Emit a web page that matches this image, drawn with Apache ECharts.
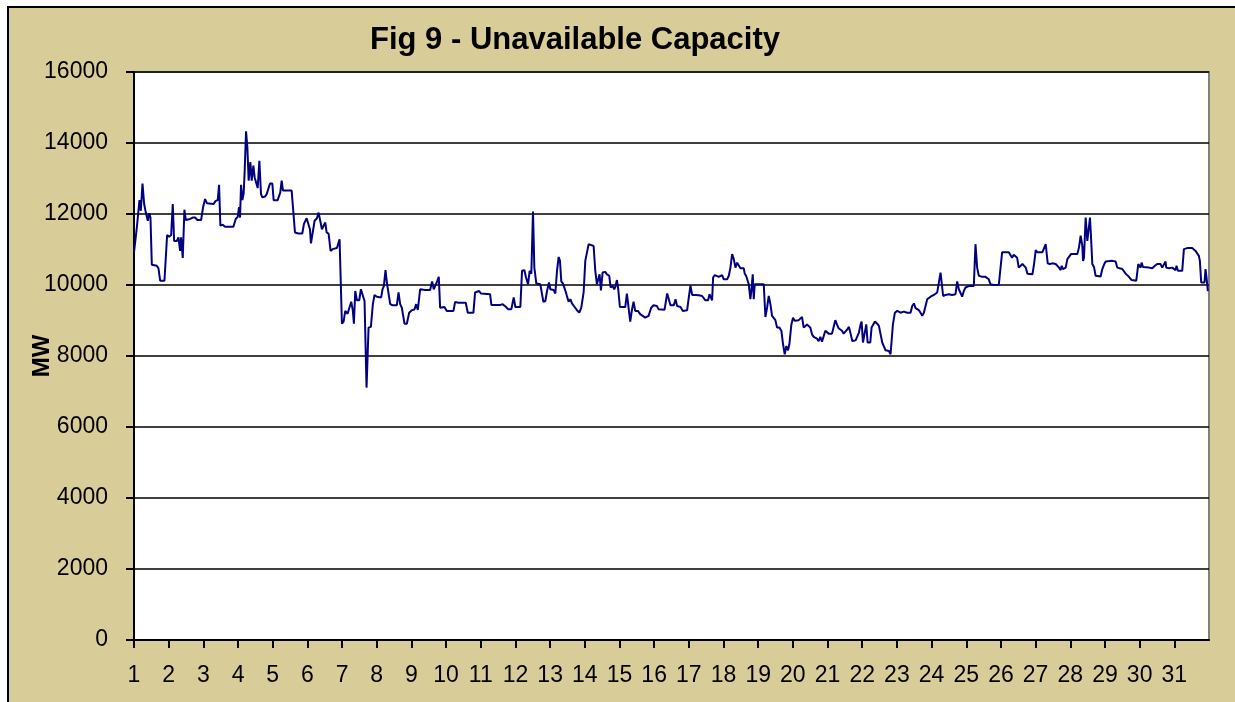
<!DOCTYPE html>
<html>
<head>
<meta charset="utf-8">
<script src="https://cdn.jsdelivr.net/npm/echarts@6/dist/echarts.min.js"></script>
<style>
html,body{margin:0;padding:0;background:#ffffff;overflow:hidden;}
#frame{position:absolute;left:7px;top:6px;width:1300px;height:800px;background:#D8CC98;border-left:2px solid #000;border-top:2px solid #000;}
#chart{position:absolute;left:0;top:0;width:1235px;height:702px;}
#edge{position:absolute;left:1212px;top:8px;width:60px;height:720px;background:#D8CC98;z-index:5;}
</style>
</head>
<body>
<div id="frame"></div>
<div id="chart"></div>
<div id="edge"></div>
<script>
const chartTitle = 'Fig 9 - Unavailable Capacity';
const yAxisName = 'MW';
const dayTicks = [1,2,3,4,5,6,7,8,9,10,11,12,13,14,15,16,17,18,19,20,21,22,23,24,25,26,27,28,29,30,31];
const yTicks = [0,2000,4000,6000,8000,10000,12000,14000,16000];

const dayPos = [
1.00,1.082,1.130,1.158,1.197,1.245,1.293,1.341,1.398,1.437,1.475,1.514,1.658,1.706,1.754,1.878,1.955,2.013,2.071,2.118,
2.157,2.234,2.282,2.330,2.358,2.406,2.454,2.493,2.618,2.694,2.762,2.829,2.935,2.992,3.050,3.107,3.290,3.357,3.415,3.453,
3.491,3.558,3.626,3.866,3.933,3.991,4.029,4.058,4.087,4.125,4.163,4.192,4.231,4.269,4.307,4.356,4.394,4.442,4.480,4.528,
4.567,4.615,4.663,4.701,4.778,4.826,4.874,4.922,4.989,5.027,5.143,5.181,5.219,5.258,5.296,5.546,5.594,5.642,5.738,5.853,
5.901,5.978,6.026,6.074,6.103,6.151,6.208,6.275,6.323,6.362,6.419,6.468,6.516,6.554,6.612,6.669,6.727,6.852,6.928,6.967,
6.996,7.044,7.092,7.159,7.216,7.264,7.312,7.341,7.380,7.428,7.495,7.543,7.591,7.648,7.706,7.764,7.831,7.888,7.936,8.004,
8.128,8.167,8.205,8.253,8.292,8.340,8.388,8.455,8.580,8.628,8.676,8.724,8.800,8.868,8.935,9.012,9.088,9.136,9.184,9.252,
9.396,9.540,9.597,9.645,9.693,9.741,9.789,9.828,9.876,9.953,10.020,10.212,10.260,10.356,10.567,10.625,10.788,10.836,10.884,10.951,
11.009,11.268,11.306,11.565,11.633,11.729,11.786,11.882,11.950,11.997,12.141,12.190,12.257,12.305,12.362,12.410,12.458,12.506,12.545,12.602,
12.717,12.765,12.804,12.862,12.910,12.967,13.006,13.054,13.102,13.150,13.198,13.246,13.284,13.322,13.370,13.418,13.457,13.495,13.534,13.582,
13.630,13.706,13.774,13.841,13.898,13.966,14.014,14.062,14.110,14.158,14.254,14.302,14.350,14.398,14.426,14.465,14.513,14.590,14.638,14.705,
14.743,14.801,14.849,14.887,14.926,14.964,15.012,15.166,15.214,15.262,15.310,15.358,15.406,15.454,15.531,15.598,15.646,15.742,15.790,15.838,
15.915,15.982,16.078,16.126,16.299,16.375,16.423,16.471,16.567,16.615,16.663,16.759,16.827,16.951,16.999,17.047,17.095,17.191,17.287,17.383,
17.431,17.479,17.556,17.595,17.643,17.671,17.700,17.748,17.864,17.912,17.960,18.008,18.104,18.152,18.200,18.248,18.296,18.344,18.392,18.440,
18.488,18.584,18.612,18.651,18.689,18.728,18.775,18.804,18.843,18.872,18.900,18.939,18.977,19.016,19.064,19.112,19.160,19.208,19.256,19.304,
19.352,19.400,19.448,19.496,19.544,19.611,19.669,19.717,19.765,19.813,19.861,19.899,19.957,20.005,20.053,20.101,20.168,20.216,20.264,20.312,
20.408,20.456,20.504,20.552,20.600,20.648,20.696,20.744,20.792,20.840,20.888,20.936,20.984,21.032,21.128,21.176,21.224,21.272,21.320,21.368,
21.416,21.464,21.521,21.569,21.617,21.665,21.713,21.761,21.809,21.857,21.905,21.953,21.982,22.021,22.078,22.117,22.155,22.193,22.232,22.270,
22.309,22.366,22.433,22.481,22.529,22.577,22.625,22.673,22.721,22.770,22.817,22.885,22.942,23.009,23.105,23.201,23.250,23.297,23.346,23.394,
23.442,23.490,23.538,23.586,23.634,23.682,23.730,23.778,23.826,23.874,23.922,23.970,24.018,24.066,24.114,24.162,24.210,24.258,24.306,24.334,
24.402,24.498,24.594,24.690,24.738,24.786,24.834,24.882,24.930,24.978,25.074,25.218,25.266,25.314,25.362,25.458,25.554,25.650,25.698,25.794,
25.938,25.986,26.034,26.130,26.226,26.274,26.322,26.370,26.418,26.466,26.514,26.571,26.619,26.667,26.715,26.763,26.811,26.907,26.955,27.003,
27.051,27.195,27.243,27.291,27.320,27.349,27.407,27.483,27.579,27.627,27.675,27.723,27.752,27.791,27.819,27.867,27.915,27.963,28.021,28.203,
28.251,28.299,28.347,28.367,28.395,28.443,28.491,28.539,28.568,28.607,28.635,28.683,28.731,28.779,28.875,28.923,28.971,29.019,29.067,29.211,
29.307,29.355,29.403,29.499,29.547,29.595,29.643,29.691,29.768,29.903,29.960,29.999,30.027,30.056,30.095,30.152,30.267,30.363,30.440,30.507,
30.603,30.651,30.699,30.747,30.767,30.843,30.939,30.987,31.035,31.064,31.103,31.151,31.228,31.276,31.371,31.516,31.564,31.612,31.660,31.708,
31.737,31.775,31.823,31.871,31.900,31.929,31.967
];

const unavailableMW = [
10920,11620,11670,12390,12090,12860,12280,12040,11810,12020,11900,10570,10540,10470,10120,10120,11410,11360,11410,12280,
11240,11240,11340,10960,11340,10760,12120,11830,11860,11900,11900,11830,11830,12190,12420,12300,12280,12370,12390,12820,
11670,11700,11640,11640,11860,11920,12190,11900,12820,12390,12580,13220,14330,13880,12940,13460,12940,13360,13030,13080,
12730,13500,12560,12470,12490,12560,12540,12860,12860,12390,12390,12350,12610,12940,12660,12660,12700,11480,11450,11450,
11720,11880,11920,11570,11170,11150,11810,11880,12040,12000,11570,11670,11760,11480,11450,10960,11010,11040,11290,11340,
8910,8970,9270,9190,9220,9530,9270,8910,9830,9570,9570,9880,9900,9550,7110,8800,8820,9460,9720,9670,
9650,9880,9970,10420,10070,10020,9460,9430,9430,9790,9460,9360,8910,8910,9220,9290,9310,9460,9300,9880,
9860,9860,10100,9880,9830,10100,10230,9360,9350,9380,9270,9270,9520,9500,9500,9220,9220,9790,9790,9830,
9760,9740,9440,9440,9460,9380,9320,9320,9650,9380,9380,10400,10420,10210,10020,10400,10320,12070,10490,10040,
10020,9990,9530,9550,9830,10070,9880,9830,9860,9760,10400,10790,10680,10100,10040,10040,9790,9650,9530,9600,
9480,9380,9290,9220,9360,9790,10680,10730,11150,11100,11100,10400,10020,10020,10300,9850,10350,10370,10300,10260,
9930,9970,9880,9970,10140,9880,9380,9380,9760,9360,8970,9290,9530,9270,9270,9180,9180,9080,9040,9130,
9360,9430,9410,9320,9300,9760,9740,9430,9430,9600,9410,9380,9270,9290,9650,9990,9720,9720,9710,9690,
9650,9570,9570,9740,9760,9570,10210,10280,10230,10210,10280,10160,10160,10260,10490,10870,10730,10490,10630,10590,
10470,10470,10320,10260,10260,10020,9600,9850,10300,9600,10020,10040,10020,10040,10020,10040,10020,9100,9360,9690,
9460,9130,9080,9010,8800,8800,8710,8330,8050,8280,8160,8330,8890,9080,8990,8990,9010,9010,9100,8800,
8890,8890,8800,8610,8540,8520,8490,8420,8540,8400,8440,8710,8710,8630,8630,8630,9010,8890,8780,8750,
8710,8630,8660,8750,8820,8630,8420,8380,8440,8470,8660,8890,8970,8380,8380,8890,8380,8420,8380,8800,
8820,8970,8910,8850,8800,8380,8350,8160,8120,8140,8050,8890,9220,9270,9220,9250,9290,9220,9270,9220,
9410,9480,9350,9300,9290,9220,9130,9220,9180,9600,9630,9670,9690,9720,9690,9790,9740,10350,10300,9690,
9720,9740,9720,9740,10100,9880,9930,9670,9830,9930,9970,9970,11150,10490,10260,10230,10230,10160,10020,10000,
10000,10020,10920,10920,10920,10920,10770,10850,10820,10770,10490,10540,10590,10540,10490,10320,10300,10300,10590,10980,
10920,10920,10920,11150,11130,10610,10590,10610,10590,10540,10490,10420,10540,10450,10420,10490,10730,10770,10870,10870,
11060,11390,11100,10680,10770,11900,11240,11200,11900,11170,10590,10510,10260,10240,10240,10450,10570,10660,10680,10680,
10660,10490,10470,10450,10400,10320,10300,10230,10140,10120,10590,10630,10490,10630,10510,10510,10490,10470,10540,10590,
10590,10490,10490,10660,10490,10470,10490,10540,10420,10540,10400,10420,10400,11010,11040,11040,11010,10960,10890,10820,
10680,10070,10040,10070,10450,10210,9830
];

const seriesData = dayPos.map((d, i) => [d, unavailableMW[i]]);

const chart = echarts.init(document.getElementById('chart'), null, {renderer: 'canvas'});
const FONT = 'Liberation Sans, Arial, sans-serif';

chart.setOption({
  animation: false,
  backgroundColor: 'transparent',
  title: {
    text: chartTitle, left: 575, top: 25, textAlign: 'center', padding: 0,
    textStyle: {color: '#000', fontSize: 31, fontWeight: 'bold', fontFamily: FONT}
  },
  grid: {
    left: 134, top: 72, right: 26, bottom: 62,
    show: true, backgroundColor: '#ffffff', borderColor: '#808080', borderWidth: 2
  },
  xAxis: {
    type: 'value', min: 1, max: 32, interval: 1,
    axisLine: {show: true, onZero: false, lineStyle: {color: '#000', width: 2}},
    axisTick: {show: true, length: 8, customValues: dayTicks, lineStyle: {color: '#000', width: 2}},
    axisLabel: {
      customValues: dayTicks,
      color: '#000', fontSize: 23, fontFamily: FONT, margin: 24
    },
    splitLine: {show: false}
  },
  yAxis: {
    type: 'value', min: 0, max: 16000, interval: 2000,
    name: yAxisName, nameLocation: 'middle', nameGap: 80, nameRotate: 90, nameMoveOverlap: false,
    nameTextStyle: {color: '#000', fontSize: 24, fontWeight: 'bold', fontFamily: FONT},
    axisLine: {show: true, lineStyle: {color: '#000', width: 2}},
    axisTick: {show: true, length: 8, lineStyle: {color: '#000', width: 2}},
    axisLabel: {
      customValues: yTicks,
      formatter: v => String(v),
      color: '#000', fontSize: 23, fontFamily: FONT, margin: 26
    },
    splitLine: {show: true, lineStyle: {color: '#000', width: 1.5}}
  },
  series: [{
    type: 'line', data: seriesData, showSymbol: false, symbol: 'none',
    lineStyle: {color: '#000080', width: 2}, z: 5
  }]
});
</script>
</body>
</html>
